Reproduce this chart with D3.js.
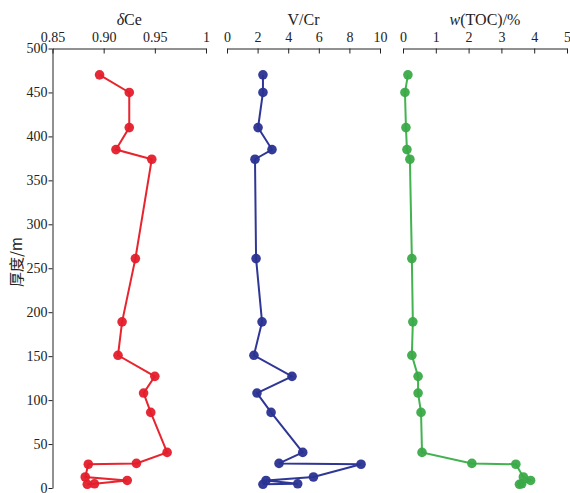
<!DOCTYPE html>
<html>
<head>
<meta charset="utf-8">
<script src="https://cdn.jsdelivr.net/npm/d3@7"></script>
<style>
  body { margin: 0; background: #fff; }
  svg text { font-family: "Liberation Serif", "Times New Roman", serif; fill: #222; }
</style>
</head>
<body>
<div id="chart"></div>
<script>
// depth (m) shared by all three profiles
const depth = [470, 450, 410, 385, 374, 261, 189, 151, 127, 108, 86, 40.5, 28, 27, 12.5, 8.6, 4.8, 4.2];
const dCe = [0.896, 0.925, 0.925, 0.912, 0.947, 0.931, 0.918, 0.914, 0.950, 0.939, 0.946, 0.962, 0.932, 0.885, 0.882, 0.923, 0.891, 0.884];
const vCr = [2.35, 2.35, 2.03, 2.94, 1.83, 1.90, 2.29, 1.76, 4.25, 1.96, 2.88, 4.95, 3.40, 8.76, 5.65, 2.55, 4.62, 2.35];
const toc = [0.15, 0.06, 0.09, 0.12, 0.21, 0.27, 0.30, 0.27, 0.46, 0.46, 0.55, 0.58, 2.10, 3.44, 3.67, 3.89, 3.62, 3.55];
const depthTicks = [0, 50, 100, 150, 200, 250, 300, 350, 400, 450, 500];
const ceTicks = [0.85, 0.90, 0.95, 1];
const vcrTicks = [0, 2, 4, 6, 8, 10];
const tocTicks = [0, 1, 2, 3, 4, 5];

const width = 570, height = 493;
const plotTop = 48.5, plotBottom = 488;

const svg = d3.select("#chart").append("svg")
    .attr("width", width)
    .attr("height", height);

const y = d3.scaleLinear().domain([0, 500]).range([plotBottom, plotTop]);

// left depth axis
const yAxis = svg.append("g")
    .attr("transform", "translate(52.5,0)")
    .call(d3.axisLeft(y).tickValues(depthTicks).tickSize(4).tickSizeOuter(0).tickPadding(1));
yAxis.selectAll("text").style("font-size", "14px");
yAxis.select(".domain").attr("stroke", "#222");
yAxis.selectAll(".tick line").attr("stroke", "#222");

svg.append("text")
    .attr("transform", "translate(22,262) rotate(-90)")
    .attr("text-anchor", "middle")
    .style("font-family", "'Noto Sans CJK SC', sans-serif")
    .style("font-size", "15px")
    .text("厚度/m");

const panels = [
  { vals: dCe, domain: [0.85, 1], range: [52.5, 206], ticks: ceTicks, fmt: d => d === 1 ? "1" : d3.format(".2f")(d), color: "#e41e2b", stroke: "#e8242e", title: "ce" },
  { vals: vCr, domain: [0, 10], range: [227, 380], ticks: vcrTicks, fmt: d3.format("d"), color: "#2a3192", stroke: "#2f3796", title: "vcr" },
  { vals: toc, domain: [0, 5], range: [403, 567], ticks: tocTicks, fmt: d3.format("d"), color: "#3aaa48", stroke: "#42b34f", title: "toc" }
];

panels.forEach(p => {
  const x = d3.scaleLinear().domain(p.domain).range(p.range);
  const ax = svg.append("g")
      .attr("transform", "translate(0," + plotTop + ")")
      .call(d3.axisTop(x).tickValues(p.ticks).tickFormat(p.fmt).tickSize(-5).tickSizeOuter(0).tickPadding(3));
  ax.selectAll("text").style("font-size", "14px").attr("y", -7);
  ax.select(".domain").attr("stroke", "#222");
  ax.selectAll(".tick line").attr("stroke", "#222");

  const t = svg.append("text")
      .attr("x", (p.range[0] + p.range[1]) / 2)
      .attr("y", 25)
      .attr("text-anchor", "middle")
      .style("font-size", "16px");
  if (p.title === "ce") {
    t.append("tspan").style("font-style", "italic").text("δ");
    t.append("tspan").text("Ce");
  } else if (p.title === "vcr") {
    t.text("V/Cr");
  } else {
    t.append("tspan").style("font-style", "italic").text("w");
    t.append("tspan").text("(TOC)/%");
  }

  const pts = depth.map((d, i) => ({ d: d, v: p.vals[i] }));

  svg.append("path")
      .datum(pts)
      .attr("fill", "none")
      .attr("stroke", p.stroke)
      .attr("stroke-width", 2)
      .attr("d", d3.line().x(d => x(d.v)).y(d => y(d.d)));

  svg.append("g").selectAll("circle")
      .data(pts)
      .join("circle")
      .attr("cx", d => x(d.v))
      .attr("cy", d => y(d.d))
      .attr("r", 4.8)
      .attr("fill", p.color)
      .attr("fill-opacity", 0.95);
});
</script>
</body>
</html>
